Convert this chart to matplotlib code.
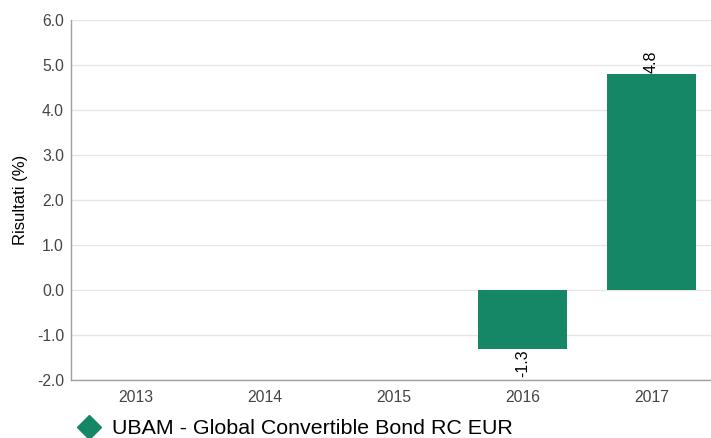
"""
Annual returns bar chart (UBAM - Global Convertible Bond RC EUR).
"""
import matplotlib
matplotlib.use('Agg')
import matplotlib.pyplot as plt
from matplotlib.lines import Line2D
import numpy as np

plt.rcParams['font.family'] = ['Liberation Sans', 'DejaVu Sans']

years = ['2013', '2014', '2015', '2016', '2017']
returns = [np.nan, np.nan, np.nan, -1.3, 4.8]
series_name = 'UBAM - Global Convertible Bond RC EUR'
bar_color = '#168766'

fig = plt.figure(figsize=(7.11, 4.38), dpi=100)
ax = fig.add_axes([71 / 711, 58 / 438, 645 / 711, 360 / 438])

x = np.arange(len(years))
bars = ax.bar(x, returns, width=0.69, color=bar_color, zorder=3)

for xi, v in zip(x, returns):
    if np.isnan(v):
        continue
    if v >= 0:
        ax.text(xi, v + 0.03, '%.1f' % v, rotation=90, ha='center', va='bottom',
                fontsize=11.5, color='black')
    else:
        ax.text(xi, v - 0.03, '%.1f' % v, rotation=90, ha='center', va='top',
                fontsize=11.5, color='black')

ax.set_xlim(-0.5, len(years) - 0.5)
ax.set_ylim(-2.0, 6.0)
ax.set_yticks(np.arange(-2.0, 6.01, 1.0))
ax.set_yticklabels(['%.1f' % t for t in np.arange(-2.0, 6.01, 1.0)])
ax.set_xticks(x)
ax.set_xticklabels(years)

ax.yaxis.grid(True, color='#e6e6e6', linewidth=1, zorder=0)
ax.set_axisbelow(True)
for side in ('top', 'right'):
    ax.spines[side].set_visible(False)
for side in ('left', 'bottom'):
    ax.spines[side].set_color('#a0a0a0')
    ax.spines[side].set_linewidth(1)
ax.tick_params(axis='both', length=0, labelsize=11.3, colors='#444444', pad=7)
ax.tick_params(axis='y', pad=5)

ax.set_ylabel('Risultati (%)', fontsize=12, color='black', labelpad=6)

handle = Line2D([], [], marker='D', color=bar_color, linestyle='none', markersize=12)
fig.legend([handle], [series_name], loc='lower left', bbox_to_anchor=(0.083, -0.044),
           frameon=False, fontsize=15.4, handletextpad=0.6, handlelength=1.0)

fig.savefig('out.png', dpi=100)
